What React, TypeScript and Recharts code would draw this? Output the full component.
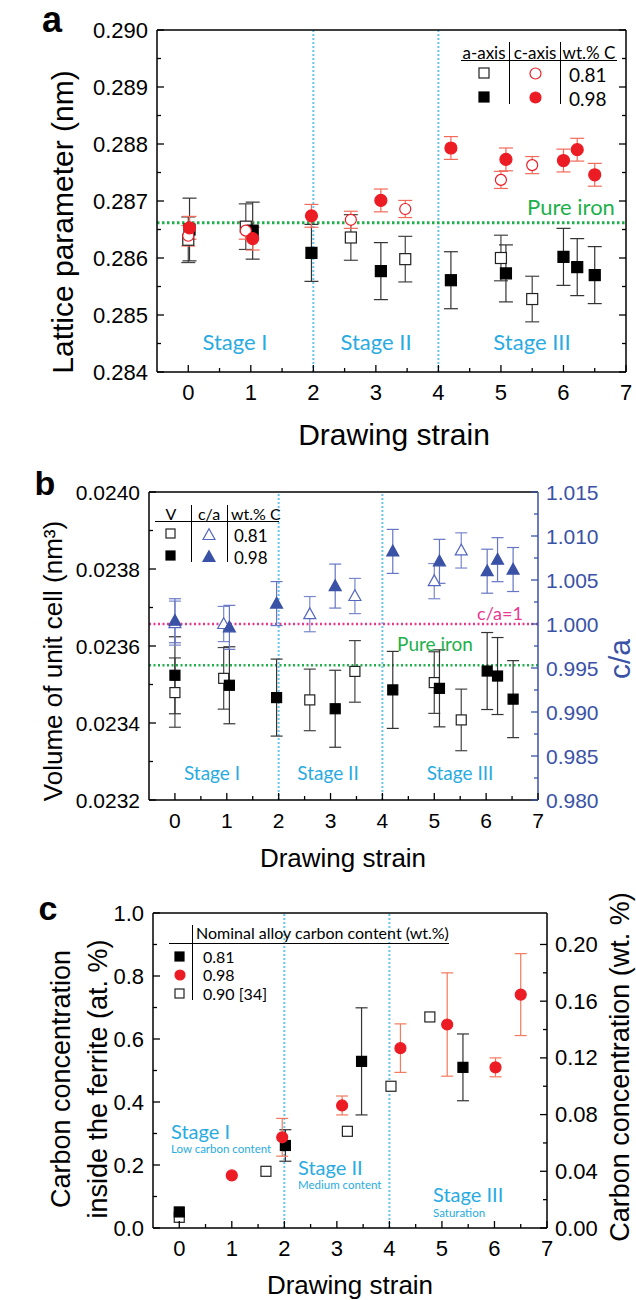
import React from 'react'
import { ScatterChart, Scatter, XAxis, YAxis, ErrorBar, ReferenceLine } from 'recharts'

// [drawing strain, value, error]
const latA081 = [[0, 0.28632, 0.0004], [0.92, 0.28655, 0.0004], [2.6, 0.28636, 0.0004], [3.47, 0.28598, 0.0004], [5.0, 0.286, 0.0004], [5.5, 0.28528, 0.0004]]
const latA098 = [[0.02, 0.2865, 0.00055], [1.03, 0.28648, 0.0005], [1.97, 0.28609, 0.0005], [3.08, 0.28577, 0.0005], [4.2, 0.28561, 0.0005], [5.08, 0.28573, 0.0005], [6.0, 0.28602, 0.0005], [6.22, 0.28584, 0.0005], [6.5, 0.2857, 0.0005]]
const latC081 = [[0, 0.28639, 0.00018], [0.92, 0.28648, 0.00015], [2.6, 0.28667, 0.00015], [3.47, 0.28686, 0.00015], [5.0, 0.28737, 0.00015], [5.5, 0.28763, 0.00015]]
const latC098 = [[0.02, 0.28653, 0.0002], [1.03, 0.28634, 0.0002], [1.97, 0.28674, 0.0002], [3.08, 0.28701, 0.0002], [4.2, 0.28793, 0.0002], [5.08, 0.28773, 0.0002], [6.0, 0.28771, 0.0002], [6.22, 0.2879, 0.0002], [6.5, 0.28746, 0.0002]]

const vol081 = [[0, 0.023479, 0.00009], [0.94, 0.023516, 0.00008], [2.6, 0.02346, 0.00008], [3.47, 0.023534, 0.00008], [5.0, 0.023505, 0.00008], [5.52, 0.023408, 0.00008]]
const vol098 = [[0, 0.023524, 0.0001], [1.05, 0.023498, 0.0001], [1.96, 0.023466, 0.0001], [3.09, 0.023437, 0.0001], [4.2, 0.023486, 0.0001], [5.1, 0.02349, 0.0001], [6.02, 0.023535, 0.0001], [6.22, 0.023522, 0.0001], [6.52, 0.023462, 0.0001]]
const ca081 = [[0, 1.0001, 0.0025], [0.94, 1.0, 0.002], [2.6, 1.00112, 0.002], [3.47, 1.00318, 0.002], [5.0, 1.00487, 0.002], [5.52, 1.00836, 0.002]]
const ca098 = [[0, 1.00037, 0.0025], [1.05, 0.99962, 0.0025], [1.96, 1.00232, 0.0025], [3.09, 1.00431, 0.0025], [4.2, 1.00825, 0.0025], [5.1, 1.00712, 0.0025], [6.02, 1.006, 0.0025], [6.22, 1.00731, 0.0025], [6.52, 1.00619, 0.0025]]

const carbon081 = [[0, 0.051, 0], [2.02, 0.262, 0.05], [3.47, 0.529, 0.17], [5.4, 0.51, 0.106]]
const carbon098 = [[1.0, 0.167, 0], [1.96, 0.288, 0.06], [3.1, 0.389, 0.03], [4.21, 0.571, 0.077], [5.1, 0.646, 0.164], [6.02, 0.51, 0.03], [6.5, 0.741, 0.13]]
const carbon090 = [[0, 0.034, 0], [1.65, 0.18, 0], [3.2, 0.307, 0], [4.03, 0.45, 0], [4.77, 0.67, 0]]

const strainTicks = [0, 0.5, 1, 1.5, 2, 2.5, 3, 3.5, 4, 4.5, 5, 5.5, 6, 6.5, 7]
const strainMajor = [0, 1, 2, 3, 4, 5, 6, 7]
const latTicks = [0.284, 0.2845, 0.285, 0.2855, 0.286, 0.2865, 0.287, 0.2875, 0.288, 0.2885, 0.289, 0.2895, 0.29]
const latMajor = [0.284, 0.285, 0.286, 0.287, 0.288, 0.289, 0.29]
const volTicks = [0.0232, 0.0233, 0.0234, 0.0235, 0.0236, 0.0237, 0.0238, 0.0239, 0.024]
const volMajor = [0.0232, 0.0234, 0.0236, 0.0238, 0.024]
const caTicks = [0.98, 0.9825, 0.985, 0.9875, 0.99, 0.9925, 0.995, 0.9975, 1.0, 1.0025, 1.005, 1.0075, 1.01, 1.0125, 1.015]
const caMajor = [0.98, 0.985, 0.99, 0.995, 1.0, 1.005, 1.01, 1.015]
const atTicks = [0, 0.1, 0.2, 0.3, 0.4, 0.5, 0.6, 0.7, 0.8, 0.9, 1.0]
const atMajor = [0, 0.2, 0.4, 0.6, 0.8, 1.0]
const wtTicks = [0, 0.02, 0.04, 0.06, 0.08, 0.1, 0.12, 0.14, 0.16, 0.18, 0.2]
const wtMajor = [0, 0.04, 0.08, 0.12, 0.16, 0.2]

const pureIronA = 0.28662
const pureIronV = 0.02355

const RED = '#ec1c24'
const BLUE = '#3a52a6'
const STAGE = '#29abe2'
const GREEN = '#20b04b'
const PINK = '#e8398f'
const ARIAL = '"Liberation Sans", Arial, sans-serif'
const CAL = 'Lato, "Open Sans", sans-serif'

const rows = (arr: number[][]) => arr.map(([x, y, e]) => ({ x, y, e }))

type Side = 'bottom' | 'top' | 'left' | 'right'

function tickFn(side: Side, majors: number[], fmt: ((v: number) => string) | null, color = '#000', size = 22) {
  return (props: any) => {
    const { x, y, payload } = props
    const v = payload.value
    const major = majors.some((m) => Math.abs(m - v) < 1e-9)
    const len = major ? 7 : 4
    let x2 = x
    let y2 = y
    if (side === 'bottom') y2 = y - len
    if (side === 'top') y2 = y + len
    if (side === 'left') x2 = x + len
    if (side === 'right') x2 = x - len
    let label = null
    if (fmt && major) {
      if (side === 'bottom')
        label = <text x={x} y={y + 20} textAnchor="middle" dominantBaseline="central" fontSize={size} fontFamily={ARIAL} fill={color}>{fmt(v)}</text>
      if (side === 'left')
        label = <text x={x - 9} y={y} textAnchor="end" dominantBaseline="central" fontSize={size} fontFamily={ARIAL} fill={color}>{fmt(v)}</text>
      if (side === 'right')
        label = <text x={x + 8} y={y} textAnchor="start" dominantBaseline="central" fontSize={size} fontFamily={ARIAL} fill={color}>{fmt(v)}</text>
    }
    return (
      <g>
        <line x1={x} y1={y} x2={x2} y2={y2} stroke={color} strokeWidth={1.3} />
        {label}
      </g>
    )
  }
}

function marker(kind: string, filled: boolean, color: string, size: number) {
  return (p: any) => {
    const { cx, cy } = p
    const h = size / 2
    const fill = filled ? color : '#fff'
    if (kind === 'square') return <rect x={cx - h} y={cy - h} width={size} height={size} fill={fill} stroke={color} strokeWidth={1.2} />
    if (kind === 'circle') return <circle cx={cx} cy={cy} r={h} fill={fill} stroke={color} strokeWidth={1.2} />
    return <polygon points={`${cx},${cy - h * 1.05} ${cx + h},${cy + h * 0.75} ${cx - h},${cy + h * 0.75}`} fill={fill} stroke={color} strokeWidth={1.2} />
  }
}

function Sym({ kind, filled, color, size }: { kind: string; filled: boolean; color: string; size: number }) {
  const s = size + 4
  return (
    <svg width={s} height={s} style={{ display: 'block' }}>
      {marker(kind, filled, color, size)({ cx: s / 2, cy: s / 2 })}
    </svg>
  )
}

function Txt({ x, y, children, size = 20, color = '#000', font = ARIAL, anchor = 'middle', rotate = false, weight = 400 }: any) {
  const tx = anchor === 'start' ? '0' : '-50%'
  return (
    <div
      style={{
        position: 'absolute', left: x, top: y, fontSize: size, color, fontFamily: font, fontWeight: weight,
        lineHeight: 1, whiteSpace: 'nowrap',
        transform: `translate(${tx}, -50%)${rotate ? ' rotate(-90deg)' : ''}`,
        transformOrigin: rotate ? 'center' : undefined,
      }}
    >
      {children}
    </div>
  )
}

function Line({ x, y, w = 0, h = 0 }: any) {
  return <div style={{ position: 'absolute', left: x, top: y, width: w || 1, height: h || 1, background: '#000' }} />
}

// axes have a 1px box (a 0px axis is not drawn); margins below are reduced by 1 to keep the plot box
function frame(yTicksL: number[], yMajL: number[], fmtL: (v: number) => string, domL: number[], yTicksR: number[], yMajR: number[], fmtR: ((v: number) => string) | null, domR: number[], rColor = '#000', tickFont = 22) {
  return [
    <XAxis key="xb" xAxisId="b" type="number" dataKey="x" orientation="bottom" height={1} domain={[-0.5, 7]} ticks={strainTicks} interval={0} tickSize={0} tickMargin={0} tickLine={false} allowDataOverflow axisLine={{ stroke: '#000', strokeWidth: 1.5 }} tick={tickFn('bottom', strainMajor, (v) => String(v), '#000', tickFont)} />,
    <XAxis key="xt" xAxisId="t" type="number" orientation="top" height={1} domain={[-0.5, 7]} ticks={strainTicks} interval={0} tickSize={0} tickMargin={0} tickLine={false} allowDataOverflow axisLine={{ stroke: '#000', strokeWidth: 1.5 }} tick={tickFn('top', strainMajor, null)} />,
    <YAxis key="yl" yAxisId="l" type="number" dataKey="y" orientation="left" width={1} domain={domL} ticks={yTicksL} interval={0} tickSize={0} tickMargin={0} tickLine={false} allowDataOverflow axisLine={{ stroke: '#000', strokeWidth: 1.5 }} tick={tickFn('left', yMajL, fmtL, '#000', tickFont)} />,
    <YAxis key="yr" yAxisId="r" type="number" dataKey="y" orientation="right" width={1} domain={domR} ticks={yTicksR} interval={0} tickSize={0} tickMargin={0} tickLine={false} allowDataOverflow axisLine={{ stroke: rColor, strokeWidth: 1.5 }} tick={tickFn('right', yMajR, fmtR, rColor, tickFont)} />,
  ]
}

const stageLine = (x: number) => (
  <ReferenceLine key={'s' + x} xAxisId="b" yAxisId="l" x={x} stroke="#6cc3ea" strokeWidth={2} strokeDasharray="2 2" />
)

export default function App() {
  return (
    <div style={{ position: 'absolute', left: 0, top: 0, width: 636, height: 1300, background: '#fff', fontFamily: ARIAL }}>
      {/* panel a */}
      <div style={{ position: 'absolute', left: 0, top: 0 }}>
        <ScatterChart width={636} height={440} margin={{ top: 29, right: 9, bottom: 67, left: 156 }}>
          {frame(latTicks, latMajor, (v) => v.toFixed(3), [0.284, 0.29], latTicks, latMajor, null, [0.284, 0.29])}
          {stageLine(2)}
          {stageLine(4)}
          <ReferenceLine xAxisId="b" yAxisId="l" y={pureIronA} stroke={GREEN} strokeWidth={3} strokeDasharray="2.5 2.5" />
          <Scatter xAxisId="b" yAxisId="l" data={rows(latA081)} isAnimationActive={false} shape={marker('square', false, '#222', 11)}>
            <ErrorBar dataKey="e" direction="y" width={7} stroke="#444" strokeWidth={1.2} />
          </Scatter>
          <Scatter xAxisId="b" yAxisId="l" data={rows(latA098)} isAnimationActive={false} shape={marker('square', true, '#000', 11)}>
            <ErrorBar dataKey="e" direction="y" width={7} stroke="#333" strokeWidth={1.2} />
          </Scatter>
          <Scatter xAxisId="b" yAxisId="l" data={rows(latC081)} isAnimationActive={false} shape={marker('circle', false, RED, 11)}>
            <ErrorBar dataKey="e" direction="y" width={7} stroke="#f26a5a" strokeWidth={1.2} />
          </Scatter>
          <Scatter xAxisId="b" yAxisId="l" data={rows(latC098)} isAnimationActive={false} shape={marker('circle', true, RED, 12)}>
            <ErrorBar dataKey="e" direction="y" width={7} stroke="#f26a5a" strokeWidth={1.2} />
          </Scatter>
        </ScatterChart>
      </div>
      <Txt x={52} y={20} size={36} weight={700}>a</Txt>
      <Txt x={63} y={222} size={30} rotate>Lattice parameter (nm)</Txt>
      <Txt x={394} y={435} size={30}>Drawing strain</Txt>
      <Txt x={235} y={342} size={22} color={STAGE} font={CAL}>Stage I</Txt>
      <Txt x={376} y={342} size={22} color={STAGE} font={CAL}>Stage II</Txt>
      <Txt x={532} y={342} size={22} color={STAGE} font={CAL}>Stage III</Txt>
      <Txt x={571} y={207} size={22} color={GREEN} font={CAL}>Pure iron</Txt>
      {/* legend a */}
      <Txt x={484} y={52} size={17} font={CAL}>a-axis</Txt>
      <Txt x={535} y={52} size={17} font={CAL}>c-axis</Txt>
      <Txt x={589} y={52} size={17} font={CAL}>wt.% C</Txt>
      <Line x={461} y={60} w={156} />
      <Line x={509} y={42} h={62} />
      <Line x={560} y={42} h={62} />
      <div style={{ position: 'absolute', left: 477, top: 66 }}><Sym kind="square" filled={false} color="#222" size={10} /></div>
      <div style={{ position: 'absolute', left: 528, top: 66 }}><Sym kind="circle" filled={false} color={RED} size={11} /></div>
      <Txt x={569} y={74} size={19} font={CAL} anchor="start">0.81</Txt>
      <div style={{ position: 'absolute', left: 477, top: 90 }}><Sym kind="square" filled color="#000" size={10} /></div>
      <div style={{ position: 'absolute', left: 528, top: 90 }}><Sym kind="circle" filled color={RED} size={11} /></div>
      <Txt x={569} y={98} size={19} font={CAL} anchor="start">0.98</Txt>

      {/* panel b */}
      <div style={{ position: 'absolute', left: 0, top: 440 }}>
        <ScatterChart width={636} height={440} margin={{ top: 51, right: 97, bottom: 79, left: 148 }}>
          {frame(volTicks, volMajor, (v) => v.toFixed(4), [0.0232, 0.024], caTicks, caMajor, (v) => v.toFixed(3), [0.98, 1.015], BLUE, 21)}
          {stageLine(2)}
          {stageLine(4)}
          <ReferenceLine xAxisId="b" yAxisId="r" y={1.0} stroke={PINK} strokeWidth={2.5} strokeDasharray="2 2.5" />
          <ReferenceLine xAxisId="b" yAxisId="l" y={pureIronV} stroke={GREEN} strokeWidth={2.5} strokeDasharray="2 2.5" />
          <Scatter xAxisId="b" yAxisId="l" data={rows(vol081)} isAnimationActive={false} shape={marker('square', false, '#222', 10)}>
            <ErrorBar dataKey="e" direction="y" width={6} stroke="#444" strokeWidth={1.2} />
          </Scatter>
          <Scatter xAxisId="b" yAxisId="l" data={rows(vol098)} isAnimationActive={false} shape={marker('square', true, '#000', 10)}>
            <ErrorBar dataKey="e" direction="y" width={6} stroke="#333" strokeWidth={1.2} />
          </Scatter>
          <Scatter xAxisId="b" yAxisId="r" data={rows(ca081)} isAnimationActive={false} shape={marker('triangle', false, '#5467bd', 12)}>
            <ErrorBar dataKey="e" direction="y" width={6} stroke="#7a88cc" strokeWidth={1.2} />
          </Scatter>
          <Scatter xAxisId="b" yAxisId="r" data={rows(ca098)} isAnimationActive={false} shape={marker('triangle', true, BLUE, 12)}>
            <ErrorBar dataKey="e" direction="y" width={6} stroke="#6676c4" strokeWidth={1.2} />
          </Scatter>
        </ScatterChart>
      </div>
      <Txt x={45} y={483} size={34} weight={700}>b</Txt>
      <Txt x={53} y={661} size={26} rotate>Volume of unit cell (nm³)</Txt>
      <Txt x={343} y={858} size={26}>Drawing strain</Txt>
      <Txt x={620} y={659} size={30} color={BLUE} rotate>c/a</Txt>
      <Txt x={212} y={772} size={19} color={STAGE} font={CAL}>Stage I</Txt>
      <Txt x={328} y={772} size={19} color={STAGE} font={CAL}>Stage II</Txt>
      <Txt x={460} y={772} size={19} color={STAGE} font={CAL}>Stage III</Txt>
      <Txt x={500} y={613} size={18} color={PINK} font={CAL}>c/a=1</Txt>
      <Txt x={435} y={643} size={19} color={GREEN} font={CAL}>Pure iron</Txt>
      {/* legend b */}
      <Txt x={171} y={514} size={16} font={CAL}>V</Txt>
      <Txt x={209} y={514} size={16} font={CAL}>c/a</Txt>
      <Txt x={231} y={514} size={16} font={CAL} anchor="start">wt.% C</Txt>
      <Line x={155} y={521} w={124} />
      <Line x={191} y={505} h={57} />
      <Line x={227} y={505} h={57} />
      <div style={{ position: 'absolute', left: 164, top: 527 }}><Sym kind="square" filled={false} color="#222" size={9} /></div>
      <div style={{ position: 'absolute', left: 201, top: 527 }}><Sym kind="triangle" filled={false} color="#5467bd" size={12} /></div>
      <Txt x={234} y={535} size={17} font={CAL} anchor="start">0.81</Txt>
      <div style={{ position: 'absolute', left: 164, top: 549 }}><Sym kind="square" filled color="#000" size={9} /></div>
      <div style={{ position: 'absolute', left: 201, top: 549 }}><Sym kind="triangle" filled color={BLUE} size={12} /></div>
      <Txt x={234} y={557} size={17} font={CAL} anchor="start">0.98</Txt>

      {/* panel c */}
      <div style={{ position: 'absolute', left: 0, top: 880 }}>
        <ScatterChart width={636} height={420} margin={{ top: 32, right: 88, bottom: 71, left: 152 }}>
          {frame(atTicks, atMajor, (v) => v.toFixed(1), [0, 1], wtTicks, wtMajor, (v) => v.toFixed(2), [0, 0.2222], '#000', 22)}
          {stageLine(2)}
          {stageLine(4)}
          <Scatter xAxisId="b" yAxisId="l" data={rows(carbon090)} isAnimationActive={false} shape={marker('square', false, '#222', 10)} />
          <Scatter xAxisId="b" yAxisId="l" data={rows(carbon081)} isAnimationActive={false} shape={marker('square', true, '#000', 10)}>
            <ErrorBar dataKey="e" direction="y" width={6} stroke="#333" strokeWidth={1.2} />
          </Scatter>
          <Scatter xAxisId="b" yAxisId="l" data={rows(carbon098)} isAnimationActive={false} shape={marker('circle', true, RED, 11)}>
            <ErrorBar dataKey="e" direction="y" width={6} stroke="#f27a5e" strokeWidth={1.2} />
          </Scatter>
        </ScatterChart>
      </div>
      <Txt x={48} y={908} size={34} weight={700}>c</Txt>
      <Txt x={61} y={1079} size={27} rotate>Carbon concentration</Txt>
      <Txt x={98} y={1079} size={27} rotate>inside the ferrite (at. %)</Txt>
      <Txt x={620} y={1067} size={27} rotate>Carbon concentration (wt. %)</Txt>
      <Txt x={350} y={1285} size={26}>Drawing strain</Txt>
      <Txt x={171} y={1131} size={20} color={STAGE} font={CAL} anchor="start">Stage I</Txt>
      <Txt x={171} y={1149} size={11.5} color={STAGE} font={CAL} anchor="start">Low carbon content</Txt>
      <Txt x={298} y={1167} size={20} color={STAGE} font={CAL} anchor="start">Stage II</Txt>
      <Txt x={298} y={1185} size={11.5} color={STAGE} font={CAL} anchor="start">Medium content</Txt>
      <Txt x={433} y={1194} size={20} color={STAGE} font={CAL} anchor="start">Stage III</Txt>
      <Txt x={433} y={1213} size={11.5} color={STAGE} font={CAL} anchor="start">Saturation</Txt>
      {/* legend c */}
      <Txt x={196} y={933} size={16} font={CAL} anchor="start">Nominal alloy carbon content (wt.%)</Txt>
      <Line x={169} y={943} w={280} />
      <Line x={192} y={925} h={75} />
      <div style={{ position: 'absolute', left: 173, top: 950 }}><Sym kind="square" filled color="#000" size={9} /></div>
      <Txt x={203} y={957} size={16} font={CAL} anchor="start">0.81</Txt>
      <div style={{ position: 'absolute', left: 173, top: 968 }}><Sym kind="circle" filled color={RED} size={10} /></div>
      <Txt x={203} y={975} size={16} font={CAL} anchor="start">0.98</Txt>
      <div style={{ position: 'absolute', left: 173, top: 987 }}><Sym kind="square" filled={false} color="#222" size={9} /></div>
      <Txt x={203} y={994} size={16} font={CAL} anchor="start">0.90 [34]</Txt>
    </div>
  )
}
